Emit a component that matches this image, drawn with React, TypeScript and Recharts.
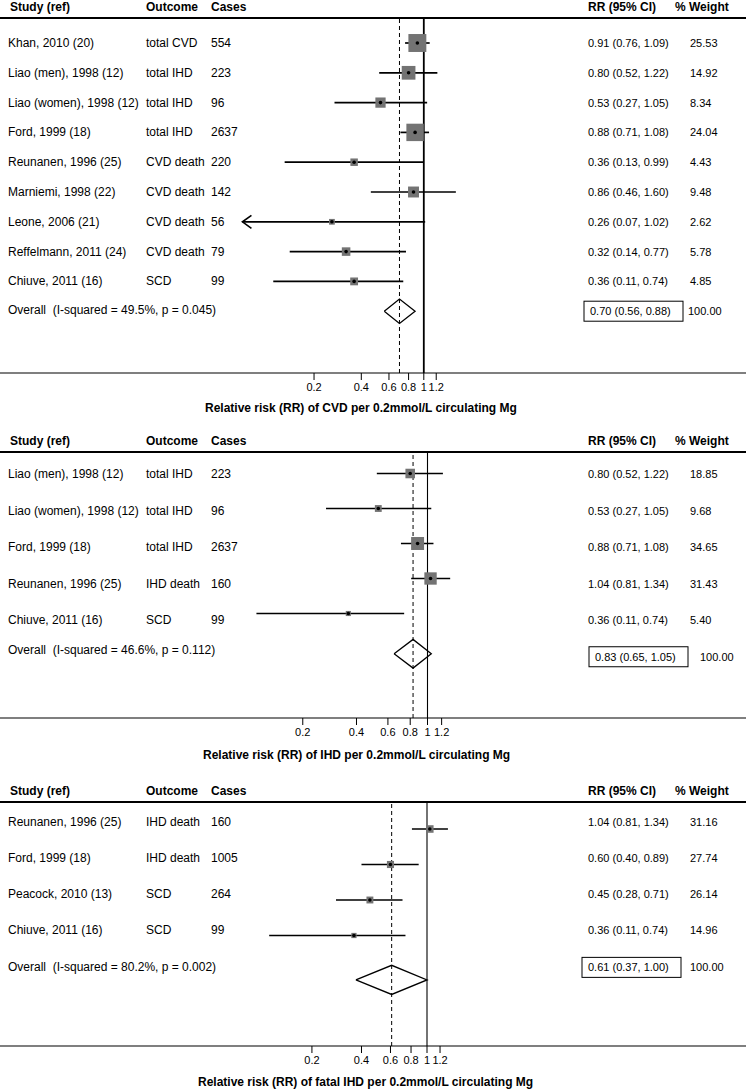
import React from 'react'
import { ScatterChart, Scatter, XAxis, YAxis, ReferenceLine } from 'recharts'

const FONT = '"Liberation Sans", Arial, Helvetica, sans-serif'
const TICKS = [0.2, 0.4, 0.6, 0.8, 1, 1.2]
const HEADERS = ['Study (ref)', 'Outcome', 'Cases', 'RR (95% CI)', '% Weight']

// panel 1: CVD
const cvdStudies = [
  'Khan, 2010 (20)',
  'Liao (men), 1998 (12)',
  'Liao (women), 1998 (12)',
  'Ford, 1999 (18)',
  'Reunanen, 1996 (25)',
  'Marniemi, 1998 (22)',
  'Leone, 2006 (21)',
  'Reffelmann, 2011 (24)',
  'Chiuve, 2011 (16)',
]
const cvdOutcomes = ['total CVD', 'total IHD', 'total IHD', 'total IHD', 'CVD death', 'CVD death', 'CVD death', 'CVD death', 'SCD']
const cvdCases = ['554', '223', '96', '2637', '220', '142', '56', '79', '99']
const cvdRR = [0.91, 0.8, 0.53, 0.88, 0.36, 0.86, 0.26, 0.32, 0.36]
const cvdLower = [0.76, 0.52, 0.27, 0.71, 0.13, 0.46, 0.07, 0.14, 0.11]
const cvdUpper = [1.09, 1.22, 1.05, 1.08, 0.99, 1.6, 1.02, 0.77, 0.74]
const cvdWeights = [25.53, 14.92, 8.34, 24.04, 4.43, 9.48, 2.62, 5.78, 4.85]
const cvdPooled = [0.7, 0.56, 0.88]
const cvdHet = 'Overall  (I-squared = 49.5%, p = 0.045)'
const cvdTitle = 'Relative risk (RR) of CVD per 0.2mmol/L circulating Mg'

// panel 2: IHD
const ihdStudies = ['Liao (men), 1998 (12)', 'Liao (women), 1998 (12)', 'Ford, 1999 (18)', 'Reunanen, 1996 (25)', 'Chiuve, 2011 (16)']
const ihdOutcomes = ['total IHD', 'total IHD', 'total IHD', 'IHD death', 'SCD']
const ihdCases = ['223', '96', '2637', '160', '99']
const ihdRR = [0.8, 0.53, 0.88, 1.04, 0.36]
const ihdLower = [0.52, 0.27, 0.71, 0.81, 0.11]
const ihdUpper = [1.22, 1.05, 1.08, 1.34, 0.74]
const ihdWeights = [18.85, 9.68, 34.65, 31.43, 5.4]
const ihdPooled = [0.83, 0.65, 1.05]
const ihdHet = 'Overall  (I-squared = 46.6%, p = 0.112)'
const ihdTitle = 'Relative risk (RR) of IHD per 0.2mmol/L circulating Mg'

// panel 3: fatal IHD
const fatalStudies = ['Reunanen, 1996 (25)', 'Ford, 1999 (18)', 'Peacock, 2010 (13)', 'Chiuve, 2011 (16)']
const fatalOutcomes = ['IHD death', 'IHD death', 'SCD', 'SCD']
const fatalCases = ['160', '1005', '264', '99']
const fatalRR = [1.04, 0.6, 0.45, 0.36]
const fatalLower = [0.81, 0.4, 0.28, 0.11]
const fatalUpper = [1.34, 0.89, 0.71, 0.74]
const fatalWeights = [31.16, 27.74, 26.14, 14.96]
const fatalPooled = [0.61, 0.37, 1.0]
const fatalHet = 'Overall  (I-squared = 80.2%, p = 0.002)'
const fatalTitle = 'Relative risk (RR) of fatal IHD per 0.2mmol/L circulating Mg'

const PLOT_W = 746
const HEAD_X = [10, 146, 211, 588, 675]
const COL = { study: 8, outcome: 146, cases: 211, rr: 588, weight: 690 }

const fmt = (v: number) => v.toFixed(2)
const ciText = (e: number, l: number, u: number) => `${fmt(e)} (${fmt(l)}, ${fmt(u)})`
const noDot = () => <g />

interface Layout {
  lineY: number
  axisY: number
  rowY0: number
  rowGap: number
  overallRow: number
  oneX: number
  pxPerLn: number
  boxScale: number
  textDy: number
  textSkew: number
  hetDy: number
  pooledX: number
  pooledDy: number
  pooledWX: number
  titleX: number
  titleY: number
  refWidth: number
}

interface PanelProps {
  studies: string[]
  outcomes: string[]
  cases: string[]
  rr: number[]
  lower: number[]
  upper: number[]
  weights: number[]
  pooled: number[]
  het: string
  title: string
  layout: Layout
}

const txtL = { fontFamily: FONT, fontSize: 12, fill: '#000' }
const txtR = { fontFamily: FONT, fontSize: 11, fill: '#000' }

function ForestPanel({ studies, outcomes, cases, rr, lower, upper, weights, pooled, het, title, layout: L }: PanelProps) {
  const rows = studies.map((s, i) => ({
    x: rr[i],
    y: i + 1,
    study: s,
    outcome: outcomes[i],
    cases: cases[i],
    lo: lower[i],
    hi: upper[i],
    w: weights[i],
  }))
  const xDomain = [Math.exp(-L.oneX / L.pxPerLn), Math.exp((PLOT_W - L.oneX) / L.pxPerLn)]
  const yDomain = [1 - (L.rowY0 - L.lineY) / L.rowGap, 1 + (L.axisY - L.rowY0) / L.rowGap]
  const [est, plo, phi] = pooled
  const oy = L.overallRow
  const dh = 0.41
  const diamond = [
    { x: plo, y: oy },
    { x: est, y: oy - dh },
    { x: phi, y: oy },
    { x: est, y: oy + dh },
    { x: plo, y: oy },
  ]
  const chartH = L.axisY - L.lineY + 30

  const rowShape = (props: any) => {
    const { cx, cy, payload } = props
    const s = L.boxScale * Math.sqrt(payload.w)
    const ty = cy + L.textDy + (payload.y - 1) * L.textSkew
    return (
      <g>
        <rect x={cx - s / 2} y={cy - s / 2} width={s} height={s} fill="#737373" />
        <circle cx={cx} cy={cy} r={1.8} fill="#000" />
        <text x={COL.study} y={ty} dominantBaseline="central" {...txtL}>{payload.study}</text>
        <text x={COL.outcome} y={ty} dominantBaseline="central" {...txtL}>{payload.outcome}</text>
        <text x={COL.cases} y={ty} dominantBaseline="central" {...txtL}>{payload.cases}</text>
        <text x={COL.rr} y={ty} dominantBaseline="central" {...txtR}>{ciText(payload.x, payload.lo, payload.hi)}</text>
        <text x={COL.weight} y={ty} dominantBaseline="central" {...txtR}>{fmt(payload.w)}</text>
      </g>
    )
  }

  const overallShape = (props: any) => {
    const { cy } = props
    const by = cy + L.pooledDy
    return (
      <g>
        <text x={COL.study} y={cy + L.hetDy} dominantBaseline="central" style={{ whiteSpace: 'pre' }} {...txtL}>{het}</text>
        <rect x={L.pooledX - 6} y={by - 10} width={99} height={20} fill="none" stroke="#000" strokeWidth={1} />
        <text x={L.pooledX} y={by} dominantBaseline="central" {...txtR}>{ciText(est, plo, phi)}</text>
        <text x={L.pooledWX} y={by} dominantBaseline="central" {...txtR}>100.00</text>
      </g>
    )
  }

  const arrowShape = (props: any) => {
    const { cx, cy } = props
    return <path d={`M${cx + 9},${cy - 6.5} L${cx},${cy} L${cx + 9},${cy + 6.5}`} fill="none" stroke="#000" strokeWidth={1.6} />
  }

  return (
    <>
      {HEADERS.map((h, i) => (
        <div
          key={h}
          style={{
            position: 'absolute',
            left: HEAD_X[i],
            top: L.lineY - 19,
            lineHeight: '16px',
            fontFamily: FONT,
            fontSize: 12,
            fontWeight: 'bold',
            whiteSpace: 'nowrap',
          }}
        >
          {h}
        </div>
      ))}
      <div style={{ position: 'absolute', left: 0, top: L.lineY - 1, width: PLOT_W, height: 2, background: '#000' }} />
      <div style={{ position: 'absolute', left: 0, top: L.lineY }}>
        <ScatterChart width={752} height={chartH} margin={{ top: 0, right: 752 - PLOT_W, bottom: 0, left: 0 }}>
          <XAxis
            type="number"
            dataKey="x"
            scale="log"
            domain={xDomain}
            allowDataOverflow
            ticks={TICKS}
            interval={0}
            tickFormatter={(v: number) => String(v)}
            height={30}
            tickSize={7}
            tickMargin={3}
            axisLine={{ stroke: '#000', strokeWidth: 1.2 }}
            tickLine={{ stroke: '#000' }}
            tick={{ fontFamily: FONT, fontSize: 11, fill: '#000' }}
          />
          <YAxis type="number" dataKey="y" domain={yDomain} reversed hide allowDataOverflow width={0} />
          <ReferenceLine x={1} stroke="#000" strokeWidth={L.refWidth} />
          <ReferenceLine x={est} stroke="#000" strokeWidth={1} strokeDasharray="4 3" />
          {rows.map((r) => (
            <Scatter
              key={r.study + r.y}
              data={[{ x: r.lo, y: r.y }, { x: r.hi, y: r.y }]}
              line={{ stroke: '#000', strokeWidth: 1.7 }}
              shape={noDot}
              isAnimationActive={false}
            />
          ))}
          <Scatter data={rows.filter((r) => r.lo < 0.1).map((r) => ({ x: r.lo, y: r.y }))} shape={arrowShape} isAnimationActive={false} />
          <Scatter data={diamond} line={{ stroke: '#000', strokeWidth: 1.3 }} shape={noDot} isAnimationActive={false} />
          <Scatter data={rows} shape={rowShape} isAnimationActive={false} />
          <Scatter data={[{ x: est, y: oy }]} shape={overallShape} isAnimationActive={false} />
        </ScatterChart>
      </div>
      <div
        style={{
          position: 'absolute',
          left: L.titleX,
          top: L.titleY - 8,
          lineHeight: '16px',
          fontFamily: FONT,
          fontSize: 12,
          fontWeight: 'bold',
          whiteSpace: 'nowrap',
        }}
      >
        {title}
      </div>
    </>
  )
}

const cvdLayout: Layout = {
  lineY: 18, axisY: 373, rowY0: 43, rowGap: 29.8, overallRow: 10,
  oneX: 423.8, pxPerLn: 68.2, boxScale: 3.55, textDy: 0, textSkew: 0, hetDy: -1,
  pooledX: 590, pooledDy: 0, pooledWX: 688, titleX: 205, titleY: 408, refWidth: 1.8,
}
const ihdLayout: Layout = {
  lineY: 452, axisY: 718, rowY0: 473.5, rowGap: 35, overallRow: 6.15,
  oneX: 427.5, pxPerLn: 77.5, boxScale: 2.2, textDy: 0.5, textSkew: 1.5, hetDy: -3.5,
  pooledX: 595, pooledDy: 3, pooledWX: 700, titleX: 203, titleY: 755, refWidth: 1.1,
}
const fatalLayout: Layout = {
  lineY: 802, axisY: 1046, rowY0: 829, rowGap: 35.5, overallRow: 5.25,
  oneX: 427, pxPerLn: 71.5, boxScale: 1.35, textDy: -7, textSkew: 0.5, hetDy: -13,
  pooledX: 588, pooledDy: -12.5, pooledWX: 690, titleX: 198, titleY: 1082, refWidth: 1.1,
}

export default function App() {
  return (
    <div style={{ position: 'absolute', left: 0, top: 0, width: 752, height: 1089, background: '#fff', overflow: 'hidden' }}>
      <ForestPanel
        studies={cvdStudies} outcomes={cvdOutcomes} cases={cvdCases} rr={cvdRR} lower={cvdLower}
        upper={cvdUpper} weights={cvdWeights} pooled={cvdPooled} het={cvdHet} title={cvdTitle} layout={cvdLayout}
      />
      <ForestPanel
        studies={ihdStudies} outcomes={ihdOutcomes} cases={ihdCases} rr={ihdRR} lower={ihdLower}
        upper={ihdUpper} weights={ihdWeights} pooled={ihdPooled} het={ihdHet} title={ihdTitle} layout={ihdLayout}
      />
      <ForestPanel
        studies={fatalStudies} outcomes={fatalOutcomes} cases={fatalCases} rr={fatalRR} lower={fatalLower}
        upper={fatalUpper} weights={fatalWeights} pooled={fatalPooled} het={fatalHet} title={fatalTitle} layout={fatalLayout}
      />
    </div>
  )
}
